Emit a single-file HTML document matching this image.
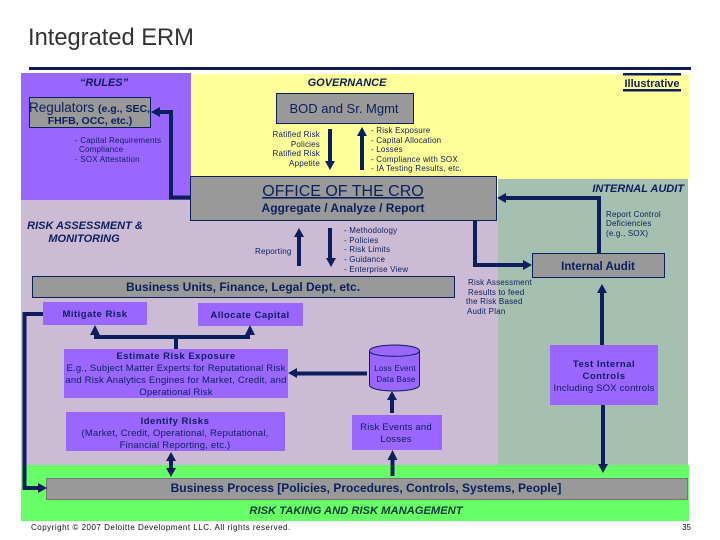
<!DOCTYPE html>
<html><head><meta charset="utf-8"><style>
html,body{margin:0;padding:0;background:#fff}
svg{display:block}
text{font-family:"Liberation Sans",sans-serif;fill:#0c1f5c}
.s{font-size:8px;letter-spacing:.2px}
.h{font-size:11px;font-weight:bold;font-style:italic}
.m{font-size:9.5px;letter-spacing:.2px}
.b{font-size:9.5px;font-weight:bold;letter-spacing:.5px}
.g{stroke:#0c1f5c;stroke-width:1;fill:#999}
.l{stroke:#0c1f5c;stroke-width:4;fill:none}
.a{fill:#0c1f5c}
.c{text-anchor:middle}
.e{text-anchor:end}
</style></head><body>
<svg width="720" height="540" viewBox="0 0 720 540" xmlns="http://www.w3.org/2000/svg">
<rect width="720" height="540" fill="#fff"/>
<text x="28" y="45" style="font-size:23.7px;fill:#333">Integrated ERM</text>
<rect x="29" y="67" width="662" height="3" fill="#0c1f5c"/>

<rect x="191" y="74" width="498" height="105" fill="#ffff99"/>
<rect x="21" y="73" width="170" height="127" fill="#9966ff"/>
<rect x="21" y="200" width="477" height="265" fill="#ccbbd5"/>
<rect x="498" y="179" width="190" height="286" fill="#a5bfb0"/>
<rect x="21" y="465" width="668" height="56" fill="#66ff66"/>

<text x="104" y="86" class="h c">“RULES”</text>
<text x="347" y="86" class="h c">GOVERNANCE</text>
<rect x="623" y="73" width="58" height="2.5" fill="#0c1f5c"/>
<rect x="623" y="89" width="58" height="2.5" fill="#0c1f5c"/>
<text x="652" y="87" class="c" style="font-size:11px;font-weight:bold">Illustrative</text>

<rect x="29.500" y="97.500" width="121" height="30" class="g"/>
<text x="29" y="112" style="font-size:13.5px">Regulators <tspan style="font-size:10.5px;font-weight:bold">(e.g., SEC,</tspan></text>
<text x="90" y="124" class="c" style="font-size:10.5px;font-weight:bold">FHFB, OCC, etc.)</text>

<rect x="276.500" y="93.500" width="137" height="30" class="g"/>
<text x="344" y="113" class="c" style="font-size:13px">BOD and Sr. Mgmt</text>

<text class="s" x="75" y="143">- Capital Requirements</text>
<text class="s" x="79" y="152">Compliance</text>
<text class="s" x="75" y="162">- SOX Attestation</text>

<text class="s e" x="320" y="137">Ratified Risk</text>
<text class="s e" x="320" y="147">Policies</text>
<text class="s e" x="320" y="156">Ratified Risk</text>
<text class="s e" x="320" y="166">Appetite</text>

<text class="s" x="371" y="133">- Risk Exposure</text>
<text class="s" x="371" y="143">- Capital Allocation</text>
<text class="s" x="371" y="152">- Losses</text>
<text class="s" x="371" y="162">- Compliance with SOX</text>
<text class="s" x="371" y="171">- IA Testing Results, etc.</text>

<rect x="190.500" y="176.500" width="306" height="44" class="g"/>
<text x="343" y="196" class="c" style="font-size:16px;text-decoration:underline">OFFICE OF THE CRO</text>
<text x="343" y="212" class="c" style="font-size:12px;font-weight:bold">Aggregate / Analyze / Report</text>

<text x="684" y="192" class="h e">INTERNAL AUDIT</text>
<text class="s" x="606" y="217">Report Control</text>
<text class="s" x="606" y="226">Deficiencies</text>
<text class="s" x="606" y="236">(e.g., SOX)</text>

<text x="85" y="229" class="h c">RISK ASSESSMENT &amp;</text>
<text x="84" y="242" class="h c">MONITORING</text>

<text class="s" x="255" y="254">Reporting</text>
<text class="s" x="344" y="233">- Methodology</text>
<text class="s" x="344" y="243">- Policies</text>
<text class="s" x="344" y="252">- Risk Limits</text>
<text class="s" x="344" y="262">- Guidance</text>
<text class="s" x="344" y="272">- Enterprise View</text>

<rect x="32.500" y="276.500" width="422" height="21" class="g"/>
<text x="243" y="291" class="c" style="font-size:12px;font-weight:bold">Business Units, Finance, Legal Dept, etc.</text>

<text class="s" x="468" y="285">Risk Assessment</text>
<text class="s" x="468" y="295">Results to feed</text>
<text class="s" x="466" y="304">the Risk Based</text>
<text class="s" x="467" y="314">Audit Plan</text>

<rect x="532.500" y="253.500" width="132" height="24" class="g"/>
<text x="598" y="270" class="c" style="font-size:11.500px;font-weight:bold">Internal Audit</text>

<rect x="43" y="302" width="104" height="23" fill="#9966ff"/>
<text x="95" y="317" class="b c">Mitigate Risk</text>
<rect x="198" y="303" width="105" height="23" fill="#9966ff"/>
<text x="250" y="318" class="b c">Allocate Capital</text>

<rect x="64" y="349" width="224" height="49" fill="#9966ff"/>
<text x="176" y="359" class="b c">Estimate Risk Exposure</text>
<text x="176" y="371" class="m c">E.g., Subject Matter Experts for Reputational Risk</text>
<text x="176" y="383" class="m c">and Risk Analytics Engines for Market, Credit, and</text>
<text x="176" y="395" class="m c">Operational Risk</text>

<rect x="66" y="412" width="219" height="39" fill="#9966ff"/>
<text x="175" y="424" class="b c">Identify Risks</text>
<text x="175" y="436" class="m c">(Market, Credit, Operational, Reputational,</text>
<text x="175" y="448" class="m c">Financial Reporting, etc.)</text>

<path d="M369.500 351V385C369.500 393 419.500 393 419.500 385V351C419.500 343 369.500 343 369.500 351C369.500 358 419.500 358 419.500 351" fill="#9966ff" stroke="#0c1f5c" stroke-width="1"/>
<text class="s c" x="395" y="371">Loss Event</text>
<text class="s c" x="396" y="382">Data Base</text>

<rect x="352" y="415" width="90" height="35" fill="#9966ff"/>
<text x="396" y="430" class="m c">Risk Events and</text>
<text x="396" y="442" class="m c">Losses</text>

<rect x="550" y="345" width="108" height="60" fill="#9966ff"/>
<text x="604" y="367" class="b c">Test Internal</text>
<text x="604" y="379" class="b c">Controls</text>
<text x="604" y="391" class="m c">Including SOX controls</text>

<rect x="46.500" y="478.500" width="641" height="21" fill="#999" stroke="#777" stroke-width="1"/>
<text x="366" y="492" class="c" style="font-size:12px;font-weight:bold">Business Process [Policies, Procedures, Controls, Systems, People]</text>
<text x="356" y="514" class="h c" style="fill:#0a3a3a;font-size:11.200px">RISK TAKING AND RISK MANAGEMENT</text>

<text x="31" y="530" style="font-size:8px;letter-spacing:.5px;fill:#111">Copyright © 2007 Deloitte Development LLC. All rights reserved.</text>
<text x="691" y="530" class="e" style="font-size:8px;fill:#111">35</text>

<!-- connectors -->
<path class="l" d="M190 197.500H171V112H160"/><path class="a" d="M151 112l9-5v10z"/>
<path class="l" d="M330 129V162"/><path class="a" d="M330 170l-5-9h10z"/>
<path class="l" d="M362 170V136"/><path class="a" d="M362 127l-5 9h10z"/>
<path class="l" d="M599 253V198H506"/><path class="a" d="M497 198l9-5v10z"/>
<path class="l" d="M475 220V265H524"/><path class="a" d="M532 265l-9-5v10z"/>
<path class="l" d="M299 266V236"/><path class="a" d="M299 228l-5 9h10z"/>
<path class="l" d="M330 228V258"/><path class="a" d="M331 267l-5-9h10z"/>
<path class="l" d="M43 314H24.500V488H38"/><path class="a" d="M47 488l-9-5v10z"/>
<path class="l" d="M176 349V337M94 337H250"/><path class="a" d="M95 325l-5 10h10zM250 325l-5 10h10z"/>
<path class="l" d="M367 373.500H296"/><path class="a" d="M288 373l9-5v10z"/>
<path class="l" d="M171 458V471"/><path class="a" d="M171 452l-5 9h10zM171 477l-5-9h10z"/>
<path class="l" d="M392 413V399"/><path class="a" d="M392 391l-5 9h10z"/>
<path class="l" d="M392.500 476V459"/><path class="a" d="M392.500 450l-5 10h10z"/>
<path class="l" d="M602 345V293"/><path class="a" d="M602 284l-5 9h10z"/>
<path class="l" d="M603 405V465"/><path class="a" d="M603 473l-5-9h10z"/>
</svg>
</body></html>
